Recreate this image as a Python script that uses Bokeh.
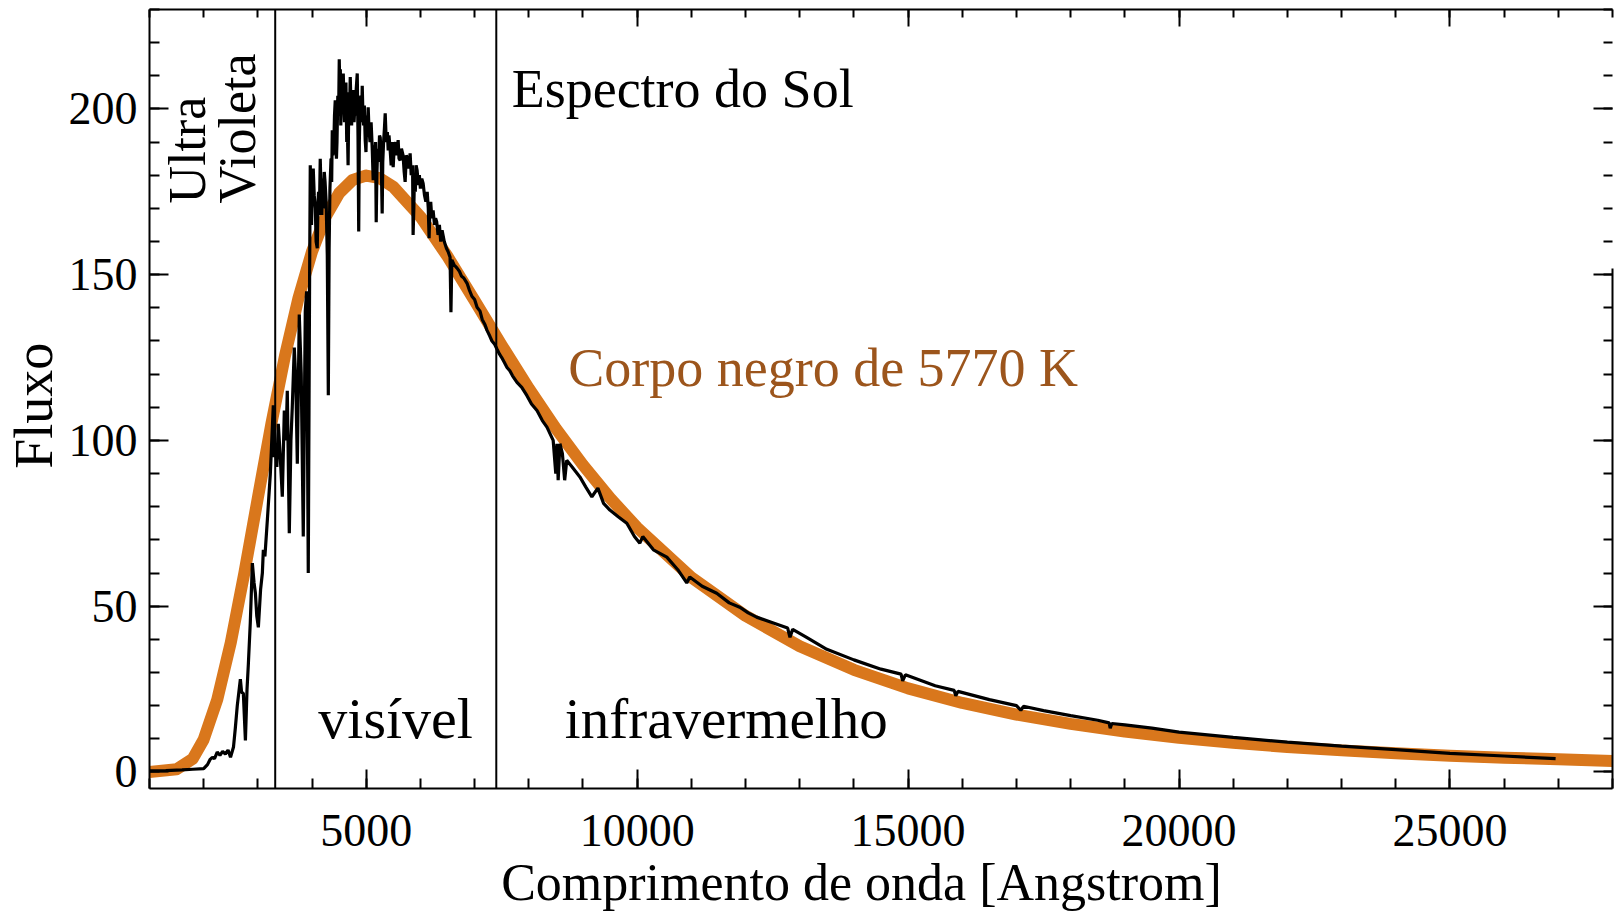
from bokeh.plotting import figure
from bokeh.models import LinearAxis, FixedTicker, Span, Label, Range1d, ColumnDataSource
from bokeh.embed import file_html
from bokeh.resources import INLINE

# ---------------- data ----------------
# Blackbody curve of 5770 K (orange)
bb_wl = [1000, 1500, 1800, 2000, 2250, 2500, 2750, 3000, 3250, 3500, 3750, 4000,
         4250, 4500, 4750, 5000, 5250, 5500, 6000, 6500, 7000, 7500, 8000, 8500,
         9000, 9500, 10000, 11000, 12000, 13000, 14000, 15000, 16000, 17000,
         18000, 19000, 20000, 21000, 22000, 23000, 24000, 25000, 26000, 27000, 28000]
bb_flux = [0.0, 0.8, 4.0, 9.8, 21.8, 39.0, 60.0, 82.7, 105.1, 125.5, 143.0, 157.0,
           167.5, 174.6, 178.6, 179.9, 179.1, 176.5, 167.5, 155.5, 142.2, 128.7, 115.7, 103.6,
           92.6, 82.6, 73.7, 58.7, 47.1, 37.9, 30.8, 25.2, 20.8, 17.3,
           14.5, 12.2, 10.3, 8.8, 7.5, 6.5, 5.6, 4.9, 4.3, 3.8, 3.3]

# Solar spectrum (black)
sun_wl = [1000, 1300, 1600, 1800, 2000, 2070, 2120, 2160, 2200, 2250, 2300, 2350, 2400, 2450,
          2495, 2550, 2585, 2620, 2677, 2700, 2732, 2770, 2800, 2825, 2860, 2898, 2930, 2954,
          2980, 3009, 3050, 3083, 3101, 3130, 3175, 3230, 3285, 3300, 3322, 3350, 3377, 3410,
          3451, 3488, 3520, 3543, 3580, 3610, 3635, 3672, 3700, 3728, 3764, 3800, 3838, 3875,
          3900, 3930, 3955, 3967, 3980, 3990, 4005, 4022, 4040, 4060, 4075, 4096, 4110, 4120,
          4135, 4151, 4165, 4180, 4195, 4207, 4225, 4240, 4260, 4281, 4300, 4315, 4330, 4350,
          4362, 4373, 4385, 4400, 4414, 4428, 4440, 4450, 4460, 4475, 4490, 4502, 4512, 4522,
          4530, 4545, 4560, 4576, 4590, 4600, 4610, 4625, 4640, 4649, 4665, 4680, 4692, 4705,
          4718, 4730, 4745, 4760, 4775, 4790, 4800, 4815, 4834, 4848, 4861, 4872, 4885, 4900,
          4915, 4926, 4938, 4950, 4965, 4981, 4995, 5010, 5022, 5036, 5050, 5070, 5090, 5110,
          5128, 5145, 5160, 5172, 5184, 5196, 5210, 5230, 5245, 5258, 5275, 5294, 5305, 5320,
          5335, 5350, 5370, 5390, 5405, 5420, 5442, 5460, 5480, 5497, 5515, 5540, 5560, 5589,
          5605, 5626, 5650, 5680, 5700, 5718, 5740, 5760, 5785, 5810, 5830, 5855, 5865, 5878,
          5890, 5905, 5920, 5939, 5960, 5980, 6000, 6025, 6050, 6075, 6100, 6125, 6145, 6160,
          6175, 6190, 6210, 6234, 6260, 6280, 6300, 6325, 6350, 6375, 6400, 6440, 6480, 6510,
          6547, 6563, 6580, 6620, 6676, 6720, 6760, 6800, 6861, 6900, 6950, 7000, 7045, 7100,
          7140, 7190, 7229, 7280, 7320, 7370, 7414, 7460, 7500, 7550, 7598, 7650, 7700, 7782,
          7870, 7966, 8050, 8151, 8250, 8335, 8450, 8498, 8520, 8542, 8575, 8620, 8662, 8700,
          8800, 8943, 9050, 9164, 9275, 9380, 9496, 9650, 9809, 9950, 10049, 10104, 10300, 10547,
          10750, 10915, 10970, 11200, 11468, 11700, 11892, 12050, 12205, 12500, 12777, 12820, 12870,
          13127, 13500, 14000, 14500, 14870, 14900, 14950, 15500, 15850, 15880, 15920, 16500,
          17000, 17080, 17130, 17500, 18000, 18500, 18710, 18730, 18760, 19000, 19500, 20000,
          21000, 22000, 23000, 24000, 25000, 26000, 26950]
sun_flux = [0.3, 0.4, 0.6, 0.8, 1.0, 2.2, 3.8, 4.4, 4.0, 6.0, 5.0, 6.2, 5.4, 6.6,
            4.4, 7.5, 13.4, 20.0, 28.0, 24.0, 23.7, 9.5, 25.0, 32.7, 45.0, 63.0, 57.0, 54.0,
            47.0, 43.6, 55.0, 60.0, 67.0, 65.0, 76.0, 90.0, 110.6, 95.0, 99.0, 92.0, 105.0, 96.0,
            83.0, 109.0, 100.0, 115.0, 72.0, 100.0, 110.0, 128.0, 118.0, 93.0, 138.0, 120.0, 71.0, 139.0,
            145.0, 60.0, 150.0, 183.0, 172.0, 165.0, 178.0, 182.0, 174.0, 170.0, 160.0, 158.0, 172.0, 175.0,
            168.0, 185.0, 176.0, 168.0, 179.0, 170.0, 181.0, 178.0, 172.0, 156.0, 113.6, 158.0, 176.0, 185.0,
            178.0, 193.6, 186.0, 188.0, 198.0, 202.6, 192.0, 185.0, 190.0, 204.0, 198.0, 215.0, 206.0, 212.0,
            195.0, 203.0, 199.0, 210.7, 202.0, 196.0, 200.0, 208.0, 190.0, 196.6, 183.0, 205.0, 199.0, 209.6,
            201.0, 195.0, 203.0, 205.7, 196.0, 201.0, 198.0, 206.0, 210.7, 192.0, 163.0, 190.0, 200.0, 204.0,
            196.0, 207.0, 199.0, 195.0, 201.0, 190.6, 187.0, 198.0, 192.0, 200.5, 194.0, 190.0, 196.0, 188.4,
            178.5, 189.0, 185.0, 190.0, 165.8, 180.0, 188.0, 184.0, 192.0, 191.4, 186.0, 168.5, 184.0, 190.0,
            194.0, 198.7, 190.0, 193.0, 187.5, 192.0, 187.5, 183.0, 190.0, 182.4, 188.0, 190.0, 186.0, 190.6,
            185.0, 184.5, 188.0, 186.0, 181.0, 178.0, 186.0, 185.0, 182.0, 186.6, 180.0, 183.0, 162.0, 170.0,
            180.0, 175.0, 183.0, 181.5, 177.0, 180.0, 176.0, 179.0, 177.5, 174.0, 172.0, 175.0, 170.0, 161.0,
            170.0, 172.0, 167.0, 169.4, 165.0, 167.0, 166.0, 162.0, 165.0, 160.0, 163.4, 160.0, 158.0, 157.0,
            155.3, 138.7, 154.5, 153.0, 152.0, 151.0, 149.5, 149.0, 147.4, 145.5, 143.5, 142.5, 140.2, 139.0,
            136.5, 135.0, 133.2, 131.5, 130.0, 129.0, 127.5, 126.0, 125.0, 123.5, 122.0, 121.0, 119.5, 117.5,
            116.0, 113.5, 111.0, 109.0, 106.0, 104.0, 100.0, 90.0, 99.0, 88.0, 99.0, 96.0, 88.0, 94.0,
            92.0, 89.0, 86.0, 83.0, 85.6, 81.0, 79.0, 77.0, 75.0, 71.0, 69.0, 71.0, 67.0, 64.8,
            61.0, 57.0, 58.8, 56.0, 53.9, 51.0, 49.7, 48.0, 46.7, 45.0, 43.4, 40.6, 43.0,
            40.6, 37.0, 33.8, 31.0, 29.5, 27.5, 29.3, 26.0, 24.6, 23.0, 24.3, 21.8,
            20.0, 18.6, 19.8, 18.5, 17.0, 15.6, 14.8, 13.2, 14.6, 14.2, 13.2, 12.0,
            10.4, 9.0, 7.8, 6.7, 5.6, 4.8, 4.0]

region_edges = [3320, 7400]           # UV | visible | infrared boundaries
x_major = [5000, 10000, 15000, 20000, 25000]
x_minor = list(range(1000, 29000, 1000))
y_major = [0, 50, 100, 150, 200]
y_minor = list(range(0, 231, 10))

FONT = "Liberation Serif"
ORANGE = "#D9771C"
BROWN = "#9C551C"
NBSP = "\u00a0"

p = figure(width=1623, height=914, output_backend="svg", toolbar_location=None,
           x_range=Range1d(1000, 28000), y_range=Range1d(-5, 230),
           min_border_left=149, min_border_right=11, min_border_top=9, min_border_bottom=126,
           background_fill_color="white", border_fill_color="white")
p.outline_line_color = None
p.xgrid.visible = False
p.ygrid.visible = False


def style(ax, ticks, minor):
    ax.ticker = FixedTicker(ticks=ticks, minor_ticks=minor)
    ax.axis_line_width = 2
    ax.axis_line_color = "black"
    ax.major_tick_in = 19
    ax.major_tick_out = 0
    ax.minor_tick_in = 10
    ax.minor_tick_out = 0
    ax.major_tick_line_width = 2
    ax.minor_tick_line_width = 2
    ax.major_tick_line_color = "black"
    ax.minor_tick_line_color = "black"
    ax.major_label_text_font = FONT
    ax.major_label_text_color = "black"
    ax.major_label_text_font_size = "46px"
    ax.axis_label_text_font = FONT
    ax.axis_label_text_font_style = "normal"
    ax.axis_label_text_color = "black"


xb = p.xaxis[0]
style(xb, x_major, x_minor)
xb.major_label_standoff = 26
xb.axis_label = "Comprimento de onda [Angstrom]" + NBSP * 3
xb.axis_label_text_font_size = "52px"
xb.axis_label_standoff = 5

yl = p.yaxis[0]
style(yl, y_major, y_minor)
yl.major_label_standoff = 12
yl.axis_label = "Fluxo" + NBSP
yl.axis_label_text_font_size = "54px"
yl.axis_label_standoff = 2


def tick_only_axis(side, positions, length, line=True, bounds=None):
    ax = LinearAxis(ticker=FixedTicker(ticks=[], minor_ticks=positions))
    ax.major_tick_in = 0
    ax.major_tick_out = 0
    ax.minor_tick_in = length
    ax.minor_tick_out = 0
    ax.minor_tick_line_width = 2
    ax.minor_tick_line_color = "black"
    ax.major_label_standoff = 0
    ax.axis_line_width = 2
    ax.axis_line_color = "black" if line else None
    if bounds is not None:
        ax.bounds = bounds
    p.add_layout(ax, side)


tick_only_axis("above", x_minor, 8)
tick_only_axis("above", x_major, 17, line=False)
tick_only_axis("right", y_minor, 9, bounds=(-5, 152))
tick_only_axis("right", y_major, 19, line=False, bounds=(-5, 152))

bb_src = ColumnDataSource(dict(wl=bb_wl, flux=bb_flux))
sun_src = ColumnDataSource(dict(wl=sun_wl, flux=sun_flux))
p.line(x="wl", y="flux", source=bb_src, line_color=ORANGE, line_width=12, line_join="round")
p.line(x="wl", y="flux", source=sun_src, line_color="black", line_width=3.2)

for loc in region_edges:
    p.add_layout(Span(location=loc, dimension="height", line_color="black", line_width=2))


def lab(x, y, text, size, color="black", angle=0):
    p.add_layout(Label(x=x, y=y, text=text, text_font=FONT, text_font_size=size,
                       text_color=color, text_align="left", text_baseline="alphabetic",
                       angle=angle, angle_units="deg"))


lab(7684, 206.0, "Espectro do Sol", "54px")
lab(8727, 121.8, "Corpo negro de 5770 K", "54px", color=BROWN)
lab(4115, 16.0, "visível", "58px")
lab(8665, 16.1, "infravermelho", "57px")
lab(1700, 171.5, "Ultra", "52px", angle=90)
lab(2620, 171.5, "Violeta", "52px", angle=90)

open("out.html", "w").write(file_html(p, INLINE))
